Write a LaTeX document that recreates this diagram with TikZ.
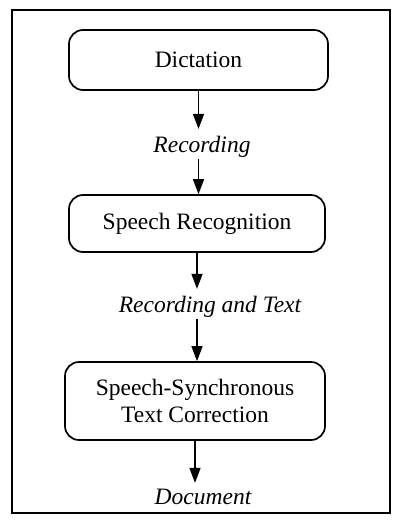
\documentclass[tikz,border=0pt]{standalone}
\usepackage{fontspec}
\setmainfont{Liberation Serif}
\usetikzlibrary{arrows.meta}

\tikzset{
  stage/.style={draw,line width=1.7pt,rounded corners=14pt,align=center,inner sep=0pt},
  flow/.style={font=\fontsize{23.5}{27}\selectfont\itshape,inner sep=1pt},
  feed/.style={line width=1.6pt,-{Triangle[length=15pt,width=11pt]}},
}

\begin{document}
\begin{tikzpicture}[x=1pt,y=-1pt,font=\fontsize{23.5}{27}\selectfont]
  \useasboundingbox (0,0) rectangle (393,528);
  % outer frame
  \draw[line width=1.8pt] (12,10) rectangle (390,513);

  \node[stage,minimum width=259pt,minimum height=60pt] (dict) at (198.5,60) {Dictation};
  \node[flow] (rec) at (202,147) {Recording};
  \node[stage,minimum width=256pt,minimum height=57pt] (recog) at (197,223.5) {Speech Recognition};
  \node[flow] (rectext) at (210,307) {Recording and Text};
  \node[stage,minimum width=260pt,minimum height=78pt] (corr) at (195,401) {Speech-Synchronous\\Text Correction};
  \node[flow] (doc) at (203,497) {Document};

  \draw[feed] (dict.south) -- ++(0,38);
  \draw[feed] (rec.south -| dict.south) -- (recog.north -| dict.south);
  \draw[feed] (recog.south) -- ++(0,36);
  \draw[feed] (rectext.south -| recog.south) -- (corr.north -| recog.south);
  \draw[feed] (corr.south) -- ++(0,42);
\end{tikzpicture}
\end{document}
